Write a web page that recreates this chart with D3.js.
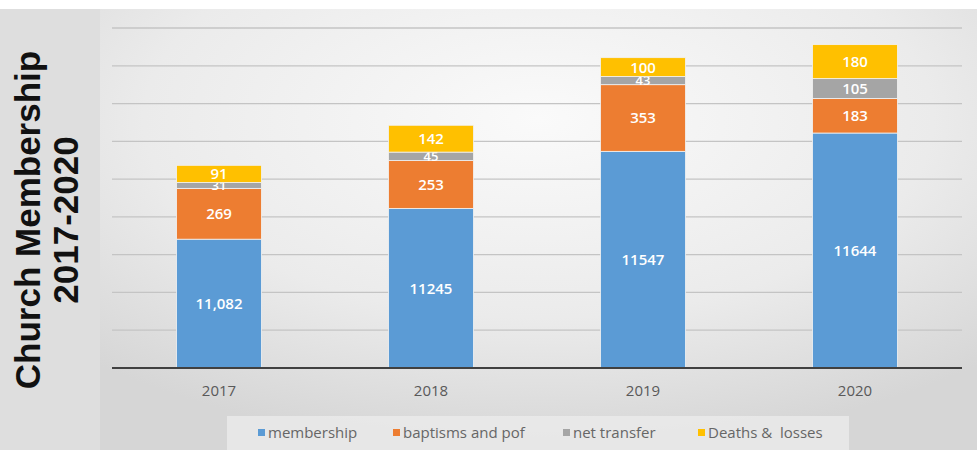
<!DOCTYPE html>
<html>
<head>
<meta charset="utf-8">
<script src="https://cdn.jsdelivr.net/npm/d3@7/dist/d3.min.js"></script>
<style>
  html, body { margin: 0; padding: 0; background: #fff; }
  svg { display: block; }
</style>
</head>
<body>
<svg id="chart" width="977" height="450"></svg>
<script>
// --- data ---
const years = ["2017", "2018", "2019", "2020"];
const membership = [11082, 11245, 11547, 11644];
const membershipLabels = ["11,082", "11245", "11547", "11644"];
const baptisms = [269, 253, 353, 183];
const netTransfer = [31, 45, 43, 105];
const deaths = [91, 142, 100, 180];
const seriesNames = ["membership", "baptisms and pof", "net transfer", "Deaths &  losses"];
const seriesColors = ["#5b9bd5", "#ed7d31", "#a5a5a5", "#ffc000"];
const yTicks = [10400, 10600, 10800, 11000, 11200, 11400, 11600, 11800, 12000, 12200];

const svg = d3.select("#chart");
const W = 977, H = 450;

// background
const defs = svg.append("defs");
const grad = defs.append("radialGradient")
    .attr("id", "panelBg")
    .attr("cx", "50%").attr("cy", "25%").attr("r", "75%");
grad.append("stop").attr("offset", "0%").attr("stop-color", "#fafafa");
grad.append("stop").attr("offset", "60%").attr("stop-color", "#ebebeb");
grad.append("stop").attr("offset", "100%").attr("stop-color", "#d6d6d6");

svg.append("rect").attr("x", 0).attr("y", 9).attr("width", W).attr("height", H - 9).attr("fill", "#dedede");
svg.append("rect").attr("x", 100).attr("y", 9).attr("width", W - 100).attr("height", H - 9).attr("fill", "url(#panelBg)");

// title
const title = svg.append("g").attr("transform", "translate(40,220) rotate(-90)");
title.append("text")
    .attr("text-anchor", "middle")
    .style("font-family", "'Liberation Sans', Arial, sans-serif")
    .style("font-weight", "bold")
    .style("font-size", "35px")
    .attr("fill", "#111")
    .text("Church Membership");
title.append("text")
    .attr("y", 38)
    .attr("text-anchor", "middle")
    .style("font-family", "'Liberation Sans', Arial, sans-serif")
    .style("font-weight", "bold")
    .style("font-size", "35px")
    .attr("fill", "#111")
    .text("2017-2020");

// scales
const x = d3.scaleBand().domain(years).range([113, 961]).paddingInner(0.6).paddingOuter(0.3);
const y = d3.scaleLinear().domain([10400, 12200]).range([368, 28]);

// gridlines
svg.append("g")
    .selectAll("line")
    .data(yTicks.slice(1))
    .join("line")
    .attr("x1", 112).attr("x2", 962)
    .attr("y1", d => y(d)).attr("y2", d => y(d))
    .attr("stroke", "#c4c4c4")
    .attr("stroke-width", 1.3);

// stacked data
const rows = years.map((yr, i) => ({
    year: yr,
    membership: membership[i],
    baptisms: baptisms[i],
    net: netTransfer[i],
    deaths: deaths[i],
    mLabel: membershipLabels[i]
}));
const keys = ["membership", "baptisms", "net", "deaths"];
const stack = d3.stack().keys(keys)(rows);

const base = y.domain()[0];
const layers = svg.append("g").selectAll("g")
    .data(stack)
    .join("g")
    .attr("fill", (d, i) => seriesColors[i]);

layers.selectAll("rect")
    .data(d => d)
    .join("rect")
    .attr("x", d => x(d.data.year))
    .attr("width", x.bandwidth())
    .attr("y", d => y(d[1]))
    .attr("height", d => y(Math.max(d[0], base)) - y(d[1]))
    .attr("stroke", "#f2f2f2")
    .attr("stroke-width", 0.8);

// data labels (small segments overlap, as in the original)
layers.selectAll("text")
    .data((d, i) => d.map(v => ({ v, key: keys[i] })))
    .join("text")
    .attr("x", d => x(d.v.data.year) + x.bandwidth() / 2)
    .attr("y", d => (y(Math.max(d.v[0], base)) + y(d.v[1])) / 2)
    .attr("dy", "0.36em")
    .attr("text-anchor", "middle")
    .attr("fill", "#fff")
    .style("font-family", "'Open Sans', sans-serif")
    .style("font-weight", "600")
    .style("font-size", d => (d.v[1] - d.v[0]) < 60 ? "13px" : "15px")
    .text(d => d.key === "membership" ? d.v.data.mLabel : d.v.data[d.key]);

// baseline
svg.append("line")
    .attr("x1", 112).attr("x2", 962)
    .attr("y1", y(base)).attr("y2", y(base))
    .attr("stroke", "#404040")
    .attr("stroke-width", 2);

// x axis labels
const xAxis = d3.axisBottom(x).tickSize(0).tickPadding(17);
const xg = svg.append("g").attr("transform", `translate(0,${y(base)})`).call(xAxis);
xg.select(".domain").remove();
xg.selectAll("text")
    .attr("fill", "#595959")
    .style("font-family", "'Open Sans', sans-serif")
    .style("font-size", "15px");

// legend
svg.append("rect").attr("x", 227).attr("y", 416).attr("width", 622).attr("height", 34).attr("fill", "#eeeeee").attr("opacity", 0.7);
const legendX = [258, 393, 563, 698];
const lg = svg.append("g").selectAll("g")
    .data(seriesNames)
    .join("g")
    .attr("transform", (d, i) => `translate(${legendX[i]},433)`);
lg.append("rect").attr("x", 0).attr("y", -4).attr("width", 7).attr("height", 7)
    .attr("fill", (d, i) => seriesColors[i]);
lg.append("text")
    .attr("x", 10).attr("dy", "0.35em")
    .attr("fill", "#666")
    .style("font-family", "'Open Sans', sans-serif")
    .style("font-size", "15px")
    .style("white-space", "pre")
    .attr("xml:space", "preserve")
    .text(d => d);
</script>
</body>
</html>
